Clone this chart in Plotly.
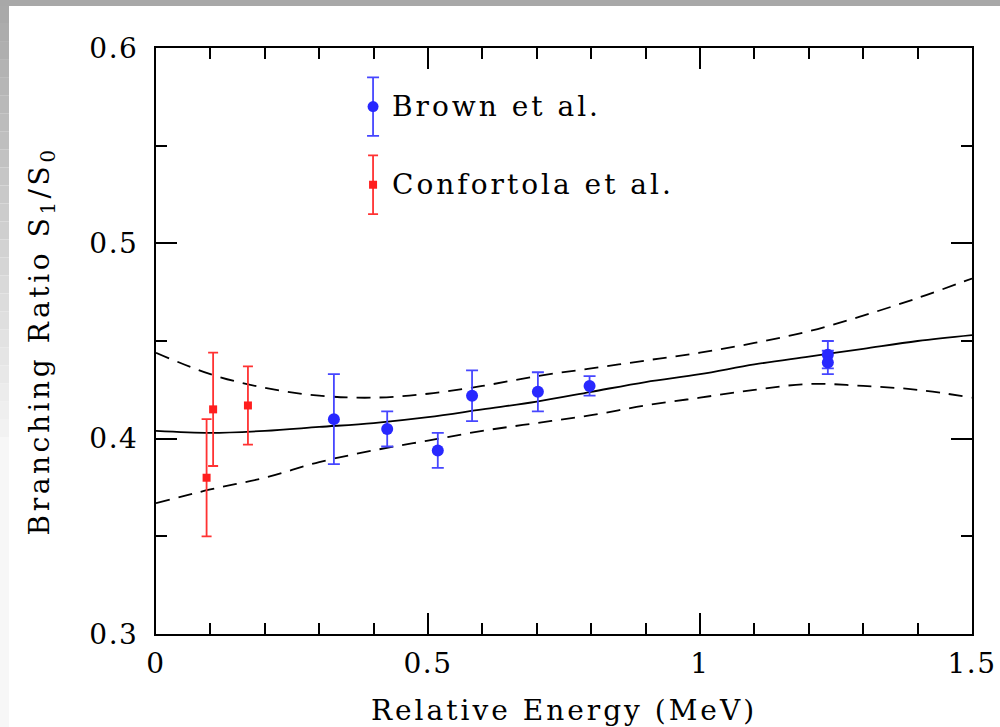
import plotly.graph_objects as go

# ---- data ----
brown_x = [0.327, 0.425, 0.518, 0.581, 0.702, 0.797, 1.235, 1.235]
brown_y = [0.410, 0.405, 0.394, 0.422, 0.424, 0.427, 0.443, 0.439]
brown_err = [0.023, 0.009, 0.009, 0.013, 0.010, 0.005, 0.007, 0.006]

conf_x = [0.093, 0.105, 0.169]
conf_y = [0.380, 0.415, 0.417]
conf_err = [0.030, 0.029, 0.020]

curve_x = [0.0, 0.1, 0.2, 0.3, 0.4, 0.5, 0.6, 0.7, 0.8, 0.9, 1.0, 1.1, 1.2, 1.3, 1.4, 1.5]
fit_y = [0.404, 0.403, 0.404, 0.406, 0.408, 0.411, 0.415, 0.419, 0.424, 0.429, 0.433, 0.438, 0.442, 0.446, 0.450, 0.453]
upper_y = [0.444, 0.433, 0.426, 0.422, 0.421, 0.423, 0.427, 0.432, 0.436, 0.440, 0.444, 0.449, 0.455, 0.463, 0.472, 0.482]
lower_y = [0.367, 0.374, 0.380, 0.388, 0.394, 0.399, 0.404, 0.408, 0.412, 0.417, 0.421, 0.425, 0.428, 0.427, 0.425, 0.421]

legend_labels = ["Brown et al.", "Confortola et al."]
legend_x = [0.399, 0.399]
legend_y = [0.570, 0.530]
legend_err = [0.015, 0.015]

x_ticks = [0, 0.5, 1, 1.5]
x_ticktext = ["0", "0.5", "1", "1.5"]
y_ticks = [0.3, 0.4, 0.5, 0.6]
y_ticktext = ["0.3", "0.4", "0.5", "0.6"]

BLUE = "rgb(40,40,255)"
BLUE_ERR = "rgb(70,70,255)"
RED = "rgb(255,30,30)"
RED_ERR = "rgb(255,50,50)"
FONT = "DejaVu Serif"

fig = go.Figure()

dash_style = dict(color="black", width=1.8, dash="14px,9px", shape="spline")
fig.add_trace(go.Scatter(x=curve_x, y=upper_y, mode="lines", line=dash_style, showlegend=False))
fig.add_trace(go.Scatter(x=curve_x, y=lower_y, mode="lines", line=dash_style, showlegend=False))
fig.add_trace(go.Scatter(x=curve_x, y=fit_y, mode="lines", line=dict(color="black", width=1.8, shape="spline"), showlegend=False))

fig.add_trace(go.Scatter(
    x=conf_x, y=conf_y, mode="markers",
    marker=dict(symbol="square", size=8, color=RED),
    error_y=dict(type="data", array=conf_err, color=RED_ERR, thickness=1.8, width=5),
    showlegend=False))
fig.add_trace(go.Scatter(
    x=brown_x, y=brown_y, mode="markers",
    marker=dict(symbol="circle", size=12, color=BLUE),
    error_y=dict(type="data", array=brown_err, color=BLUE_ERR, thickness=1.8, width=6),
    showlegend=False))

# legend drawn as data-space marks
fig.add_trace(go.Scatter(
    x=[legend_x[0]], y=[legend_y[0]], mode="markers",
    marker=dict(symbol="circle", size=11, color=BLUE),
    error_y=dict(type="data", array=[legend_err[0]], color=BLUE_ERR, thickness=1.8, width=6),
    showlegend=False))
fig.add_trace(go.Scatter(
    x=[legend_x[1]], y=[legend_y[1]], mode="markers",
    marker=dict(symbol="square", size=8, color=RED),
    error_y=dict(type="data", array=[legend_err[1]], color=RED_ERR, thickness=1.8, width=5),
    showlegend=False))
for lx, ly, lt in zip(legend_x, legend_y, legend_labels):
    fig.add_annotation(x=lx + 0.031, y=ly, text=lt, showarrow=False, xanchor="left", yanchor="middle",
                       align="left", font=dict(family=FONT, size=28, color="black"))

# slide-like border
shapes = [dict(type="rect", xref="paper", yref="paper", x0=-0.2, x1=1.05, y0=(634 - 6) / 586, y1=1.1,
               fillcolor="#a8a8a8", line=dict(width=0), layer="below")]
n = 24
for i in range(n):
    py0 = 6 + i * (437 - 6) / n
    py1 = 6 + (i + 1) * (437 - 6) / n
    t = (i + 0.5) / n
    c = int(168 + t * (244 - 168))
    shapes.append(dict(type="rect", xref="paper", yref="paper", x0=-0.2, x1=(9 - 156) / 816,
                       y0=(634 - py1) / 586, y1=(634 - py0) / 586,
                       fillcolor=f"rgb({c},{c},{c})", line=dict(width=0), layer="below"))
shapes.append(dict(type="rect", xref="paper", yref="paper", x0=-0.2, x1=(9 - 156) / 816,
                   y0=-0.2, y1=(634 - 437) / 586, fillcolor="#f7f7f7", line=dict(width=0), layer="below"))

axis_common = dict(
    showgrid=False, zeroline=False, showline=True, linecolor="black", linewidth=2,
    mirror="allticks", ticks="inside", ticklen=21, tickwidth=2, tickcolor="black",
    tickfont=dict(family=FONT, size=28, color="black"), automargin=False,
)

fig.update_layout(
    width=1000, height=727,
    margin=dict(l=156, r=28, t=48, b=93),
    paper_bgcolor="white", plot_bgcolor="white",
    shapes=shapes,
    xaxis=dict(range=[0, 1.5], tickvals=x_ticks, ticktext=x_ticktext, ticklabelstandoff=3,
               minor=dict(dtick=0.1, tick0=0, ticks="inside", ticklen=11, tickwidth=2, tickcolor="black"),
               title=dict(text="Relative Energy (MeV)", font=dict(family=FONT, size=28, color="black"), standoff=24),
               **axis_common),
    yaxis=dict(range=[0.3, 0.6], tickvals=y_ticks, ticktext=y_ticktext, ticklabelstandoff=10,
               minor=dict(dtick=0.05, tick0=0.3, ticks="inside", ticklen=11, tickwidth=2, tickcolor="black"),
               title=dict(text="Branching Ratio S<sub>1</sub>/S<sub>0</sub>", font=dict(family=FONT, size=28, color="black"), standoff=36),
               **axis_common),
)

post = """
var gd = document.getElementById('{plot_id}');
gd.querySelectorAll('.g-xtitle text, .annotation-text').forEach(function(t){ t.style.letterSpacing = '3px'; });
gd.querySelectorAll('.g-ytitle text').forEach(function(t){ t.style.letterSpacing = '3.6px'; });
gd.querySelectorAll('.xtick text, .ytick text').forEach(function(t){ t.style.letterSpacing = '1.5px'; });
"""

fig.write_html("out.html", post_script=post)
